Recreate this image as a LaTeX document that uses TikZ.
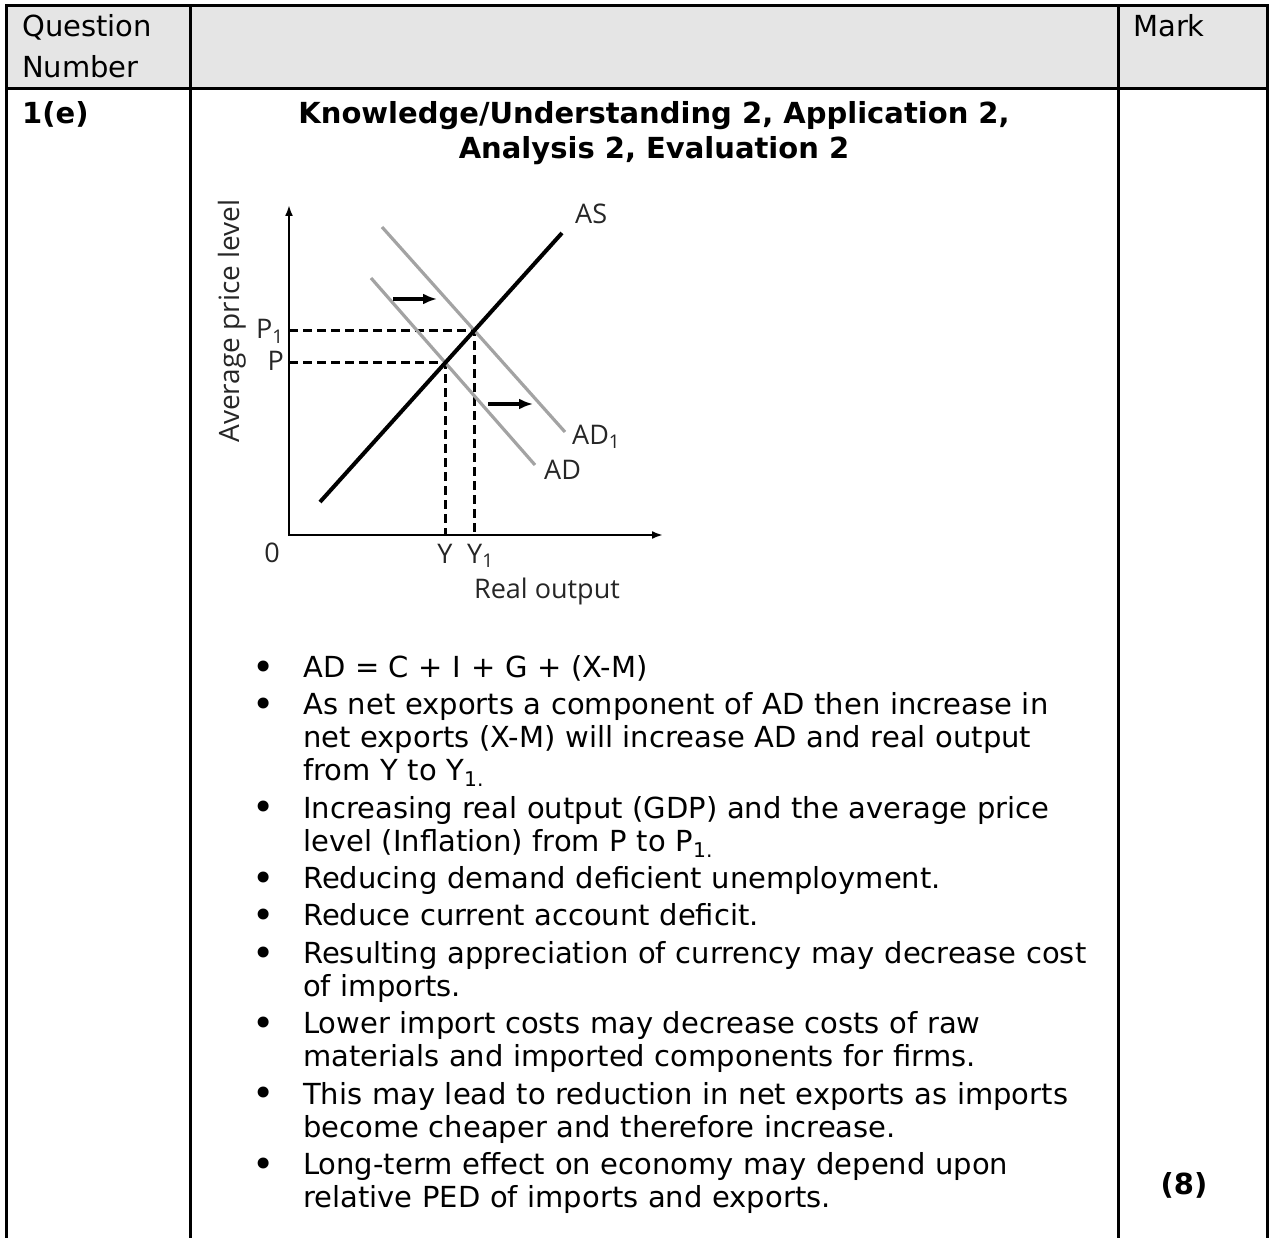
\documentclass[tikz,border=0pt]{standalone}
\usepackage{fontspec}
\setmainfont{DejaVu Sans}
\newfontfamily\graphfont{Open Sans}
\usetikzlibrary{arrows.meta}
\definecolor{hdrgray}{HTML}{E5E5E5}
\definecolor{adgray}{HTML}{A3A3A3}
\newcommand{\subdot}{\textsubscript{1.}}
\newcommand{\pointlabel}[1]{#1\hfil}
\newenvironment{markpoints}{%
  \begin{list}{\raisebox{-0.1em}{\scalebox{1.3}{\textbullet}}}{%
    \setlength{\leftmargin}{51pt}%
    \setlength{\labelwidth}{51pt}%
    \setlength{\labelsep}{0pt}%
    \setlength{\itemsep}{4.4pt}%
    \setlength{\parsep}{0pt}%
    \setlength{\topsep}{0pt}%
    \setlength{\partopsep}{0pt}%
    \let\makelabel\pointlabel}}%
  {\end{list}}

\begin{document}
\begin{tikzpicture}[
    x=1pt, y=-1pt,
    rule/.style={line width=3pt},
    hdr/.style={anchor=base west, inner sep=0pt, font=\fontsize{29}{35}\selectfont},
    title/.style={anchor=base, inner sep=0pt, font=\fontsize{29}{35}\selectfont\bfseries},
    axis/.style={line width=2.4pt, {Latex[length=11pt,width=8pt]}-{Latex[length=11pt,width=8pt]}},
    guide/.style={line width=3.2pt, dash pattern=on 9pt off 5pt},
    adline/.style={line width=3.2pt, adgray},
    shiftarrow/.style={line width=3.2pt, -{Latex[length=14pt,width=11pt]}},
    lbl/.style={inner sep=0pt, font=\fontsize{27}{30}\graphfont, text=black!85},
]
\useasboundingbox (0,0) rectangle (1269,1238);

% Table frame
\coordinate (tl) at (6,6);
\coordinate (tr) at (1267,6);
\coordinate (bl) at (6,1238);
\coordinate (br) at (1267,1238);
\fill[hdrgray] (tl) rectangle (1267,89);
\draw[rule] (bl) -- (tl) -- (tr) -- (br);
\draw[rule] (6,89) -- (1267,89);
\draw[rule] (190,6) -- (190,1238);
\draw[rule] (1118,6) -- (1118,1238);

% Header row
\node[hdr] (qn1) at (22,37) {Question};
\node[hdr] (qn2) at (22,78) {Number};
\node[hdr] (mark) at (1133,37) {Mark};

% Question row
\node[hdr, font=\fontsize{29}{35}\selectfont\bfseries] (qnum) at (22,124) {1(e)};
\node[title] (crit1) at (654,124) {Knowledge/Understanding 2, Application 2,};
\node[title] (crit2) at (654,159) {Analysis 2, Evaluation 2};
\node[title] (marks) at (1184,1194) {(8)};

% AD/AS diagram
\coordinate (O) at (289,535);
\coordinate (ytip) at (289,205);
\coordinate (xtip) at (663,535);
\coordinate (as0) at (320,502);
\coordinate (as1) at (562,233);
\coordinate (ad0) at (371,278);
\coordinate (ad1) at (535,465);
\coordinate (adn0) at (382,227);
\coordinate (adn1) at (565,432);
\coordinate (e0) at (intersection of as0--as1 and ad0--ad1);
\coordinate (e1) at (intersection of as0--as1 and adn0--adn1);

\draw[guide] (O |- e1) -- (e1) -- (e1 |- O);
\draw[guide] (O |- e0) -- (e0) -- (e0 |- O);
\draw[adline] (ad0) -- (ad1);
\draw[adline] (adn0) -- (adn1);
\draw[line width=4pt] (as0) -- (as1);
\draw[axis] (ytip) -- (O) -- (xtip);

% Shift arrows
\coordinate (up0) at (393,299);
\coordinate (up1) at (437,299);
\coordinate (lo0) at (488,404);
\coordinate (lo1) at (533,404);
\draw[shiftarrow] (up0) -- (up1);
\draw[shiftarrow] (lo0) -- (lo1);

% Curve and axis labels
\node[lbl, anchor=base west] (asl) at (575,224) {AS};
\node[lbl, anchor=base west] (adnl) at (572,444) {AD\textsubscript{1}};
\node[lbl, anchor=base west] (adl) at (544,479) {AD};
\node[lbl, anchor=base east] (p1l) at (284,339) {P\textsubscript{1}};
\node[lbl, anchor=base east] (pl) at (284,371) {P};
\node[lbl, anchor=base] (zero) at (272,562) {0};
\node[lbl, anchor=base] (yl) at (445,563) {Y};
\node[lbl, anchor=base west] (y1l) at (467,563) {Y\textsubscript{1}};
\node[lbl, anchor=base] (xlab) at (547,598) {Real output};
\node[lbl, rotate=90, font=\fontsize{28}{30}\graphfont] (ylab) at (232,321) {Average price level};

% Mark scheme points
\node[anchor=north west, inner sep=0pt, text width=860pt, align=left,
      font=\fontsize{29}{33}\selectfont] (points) at (252,644) {%
\begin{markpoints}
\item AD = C + I + G + (X-M)
\item As net exports a component of AD then increase in\newline
      net exports (X-M) will increase AD and real output\newline
      from Y to Y\subdot
\item Increasing real output (GDP) and the average price\newline
      level (Inflation) from P to P\subdot
\item Reducing demand deficient unemployment.
\item Reduce current account deficit.
\item Resulting appreciation of currency may decrease cost\newline
      of imports.
\item Lower import costs may decrease costs of raw\newline
      materials and imported components for firms.
\item This may lead to reduction in net exports as imports\newline
      become cheaper and therefore increase.
\item Long-term effect on economy may depend upon\newline
      relative PED of imports and exports.
\end{markpoints}};

\end{tikzpicture}
\end{document}
